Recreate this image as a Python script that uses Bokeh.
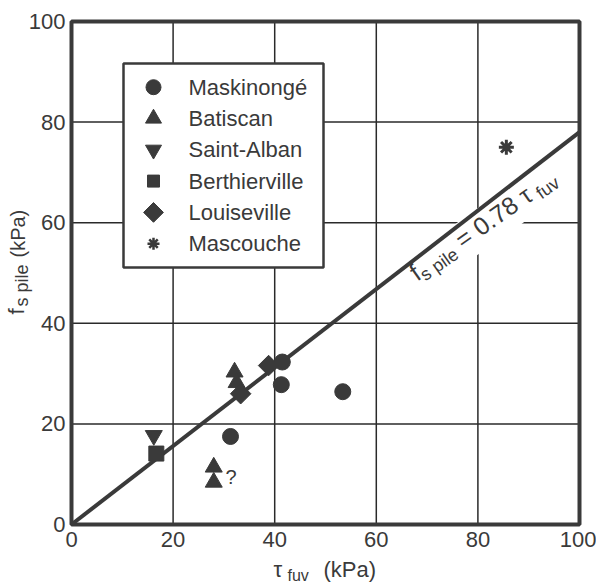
import math
from bokeh.plotting import figure
from bokeh.models import Range1d, FixedTicker, Label, LinearAxis
from bokeh.embed import file_html
from bokeh.resources import INLINE

# ---------------- data ----------------
series_names = ["Maskinongé", "Batiscan", "Saint-Alban", "Berthierville", "Louiseville", "Mascouche"]
mask_x = [31.3, 41.3, 41.5, 53.4]
mask_y = [17.5, 27.8, 32.3, 26.4]
bati_x = [32.1, 32.5, 28.0, 28.0]
bati_y = [30.3, 28.2, 11.4, 8.4]
alban_x = [16.2]
alban_y = [17.7]
berth_x = [16.7]
berth_y = [14.1]
louis_x = [33.3, 38.8]
louis_y = [26.0, 31.6]
masc_x = [85.6]
masc_y = [75.0]
fit_x = [0, 100]
fit_y = [0, 78]
ticks = [0, 20, 40, 60, 80, 100]
note_text = "?"
note_x = [30.3]
note_y = [9.5]

# ---------------- styling / layout ----------------
INK = "#3a3a3a"
FONT = "Liberation Sans"
W, H = 596, 583
# plot-box edges in canvas pixels
FL, FR, FT, FB = 71, 579, 21, 524
SXp = (FR - FL) / 100.0
SYp = (FB - FT) / 100.0
MID = 0.35   # distance (in em) from baseline to the middle of the text box


def to_data(ix, iy):
    return (ix - FL) / SXp, (FB - iy) / SYp


x0d, y0d = to_data(0, H)
x1d, y1d = to_data(W, 0)

p = figure(width=W, height=H, x_range=Range1d(x0d, x1d), y_range=Range1d(y0d, y1d),
           x_axis_type=None, y_axis_type=None,
           output_backend="svg", toolbar_location=None, title=None, min_border=0)
p.background_fill_color = "white"
p.border_fill_color = "white"
p.outline_line_color = None

# axes pinned to the plot box (tick labels only)
xaxis = LinearAxis(fixed_location=ticks[0], ticker=FixedTicker(ticks=ticks))
yaxis = LinearAxis(fixed_location=ticks[0], ticker=FixedTicker(ticks=ticks))
for ax in (xaxis, yaxis):
    ax.axis_line_color = None
    ax.major_tick_line_color = None
    ax.minor_tick_line_color = None
    ax.major_tick_in = 0
    ax.major_tick_out = 0
    ax.major_label_text_font = FONT
    ax.major_label_text_font_size = "22px"
    ax.major_label_text_color = INK
xaxis.major_label_standoff = 7
yaxis.major_label_standoff = 6
p.add_layout(xaxis, "below")
p.add_layout(yaxis, "left")

# grid lines at the interior ticks
inner = ticks[1:-1]
p.segment(x0=inner, y0=[ticks[0]] * len(inner), x1=inner, y1=[ticks[-1]] * len(inner),
          line_color="#2a2a2a", line_width=1.5)
p.segment(x0=[ticks[0]] * len(inner), y0=inner, x1=[ticks[-1]] * len(inner), y1=inner,
          line_color="#2a2a2a", line_width=1.5)

# ---------------- equation label geometry ----------------
theta = math.atan2(0.78 * SYp, SXp)          # line angle on screen
phi = theta - math.radians(2.5)              # text angle
along0, perp0 = 422.0, 19.0
P0x = along0 * math.cos(theta) + perp0 * math.sin(theta)
P0y = along0 * math.sin(theta) - perp0 * math.cos(theta)
dx, dy = math.cos(phi), math.sin(phi)
nx, ny = math.sin(phi), -math.cos(phi)


def eq_point(s, shift):
    px = P0x + s * dx + shift * nx
    py = P0y + s * dy + shift * ny
    return px / SXp, py / SYp

# white patch behind the equation (blanks the grid lines)
rc = eq_point(88.0, -6.0)
p.rect(x=[rc[0]], y=[rc[1]], width=188, height=38, width_units="screen",
       height_units="screen", angle=phi, fill_color="white", line_color=None)

# white legend box
lb_l, lb_b = to_data(123, 267)
lb_r, lb_t = to_data(323, 63)
p.quad(left=[lb_l], right=[lb_r], bottom=[lb_b], top=[lb_t],
       fill_color="white", line_color=INK, line_width=2.5)

# plot box
p.quad(left=[ticks[0]], right=[ticks[-1]], bottom=[ticks[0]], top=[ticks[-1]],
       fill_color=None, line_color=INK, line_width=4)

# regression line
p.line(fit_x, fit_y, line_color=INK, line_width=4)

# ---------------- data markers ----------------
styles = [
    dict(marker="circle", size=16, angle=0.0),
    dict(marker="triangle", size=17, angle=0.0),
    dict(marker="inverted_triangle", size=17, angle=0.0),
    dict(marker="square", size=15, angle=0.0),
    dict(marker="square", size=14.5, angle=math.pi / 4),
    dict(marker="asterisk", size=15, angle=0.0),
]
legend_sizes = [15, 16, 16, 12, 14, 12]
data_xy = [(mask_x, mask_y), (bati_x, bati_y), (alban_x, alban_y),
           (berth_x, berth_y), (louis_x, louis_y), (masc_x, masc_y)]

for (xs, ys), st in zip(data_xy, styles):
    p.scatter(xs, ys, marker=st["marker"], size=st["size"], angle=st["angle"],
              fill_color=INK, line_color=INK, line_width=3 if st["marker"] == "asterisk" else 1)

# ---------------- legend (symbols + labels) ----------------
row0, pitch = 86.7, 31.3
for i, (name, st) in enumerate(zip(series_names, styles)):
    iy = row0 + pitch * i
    mx, my = to_data(153, iy)
    p.scatter([mx], [my], marker=st["marker"], size=legend_sizes[i], angle=st["angle"],
              fill_color=INK, line_color=INK, line_width=2.5 if st["marker"] == "asterisk" else 1)
    tx, ty = to_data(188, iy)
    p.add_layout(Label(x=tx, y=ty, text=name, text_font=FONT, text_font_size="22px",
                       text_color=INK, text_baseline="middle", text_align="left"))

# "?" note next to the two low Batiscan points (anchor = middle of the glyph)
p.add_layout(Label(x=note_x[0], y=note_y[0], text=note_text, text_font=FONT,
                   text_font_size="20px", text_color=INK, text_baseline="middle",
                   text_align="left"))

# ---------------- equation text ----------------
# (text, font px, baseline shift below main baseline, advance along the text)
eq_chunks = [("f", 25, 0, 0.0), ("s pile", 18, 5, 7.0), ("=", 25, 0, 56.0),
             ("0.78", 25, 0, 77.6), ("\u03c4", 25, 0, 133.3), ("fuv", 18, 5, 148.8)]
for txt, fs, shift, s in eq_chunks:
    ex, ey = eq_point(s, shift - MID * fs)
    p.add_layout(Label(x=ex, y=ey, text=txt, angle=phi, text_font=FONT,
                       text_font_size=f"{fs}px", text_color=INK,
                       text_baseline="middle", text_align="left"))

# ---------------- axis titles ----------------
# (text, font px, left x, baseline y) in canvas pixels
x_title = [("\u03c4", 22, 273, 576.5), ("fuv", 16, 287, 580.5), ("(kPa)", 22, 323, 576.5)]
for txt, fs, ix, iy in x_title:
    ax_, ay_ = to_data(ix, iy - MID * fs)
    p.add_layout(Label(x=ax_, y=ay_, text=txt, text_font=FONT, text_font_size=f"{fs}px",
                       text_color=INK, text_baseline="middle", text_align="left"))

# (text, font px, baseline x, start y) in canvas pixels, text reads upward
y_title = [("f", 22, 24, 314), ("s pile", 18, 28, 306), ("(kPa)", 20, 24, 257)]
for txt, fs, ix, iy in y_title:
    ax_, ay_ = to_data(ix - MID * fs, iy)
    p.add_layout(Label(x=ax_, y=ay_, text=txt, angle=math.pi / 2, text_font=FONT,
                       text_font_size=f"{fs}px", text_color=INK,
                       text_baseline="middle", text_align="left"))

open("out.html", "w").write(file_html(p, INLINE))
